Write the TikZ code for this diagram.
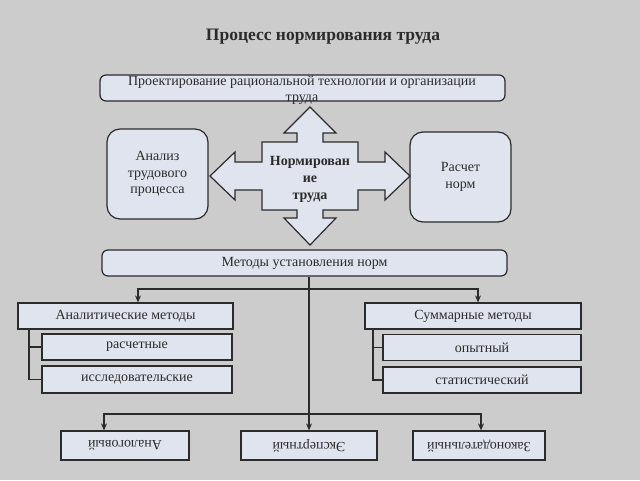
\documentclass[tikz,border=0pt]{standalone}
\usepackage{fontspec}
\setmainfont{Liberation Serif}
\usetikzlibrary{arrows.meta, positioning}

\definecolor{bgGray}{HTML}{CCCCCC}
\definecolor{boxFill}{HTML}{DFE4EE}
\definecolor{lineDark}{HTML}{2B2B2B}
\newcommand{\fsz}[2]{\fontsize{#1}{#2}\selectfont}

\begin{document}
\begin{tikzpicture}[x=1pt, y=-1pt,
        rbox/.style={rectangle, rounded corners=6pt, draw=lineDark, line width=1.2pt, fill=boxFill,
            text=lineDark, font=\fsz{14}{16.5}},
        bigbox/.style={rbox, rounded corners=13pt, minimum width=101pt, minimum height=90pt, align=center},
        mbox/.style={rectangle, draw=lineDark, line width=1.2pt, fill=boxFill, minimum height=26pt,
            text=lineDark, font=\fsz{14}{16.5}},
        lbox/.style={mbox, minimum height=29pt, rotate=180},
        arrow/.style={-{Stealth[length=7pt, width=6pt]}, line width=1.4pt, draw=lineDark},
        link/.style={line width=1.6pt, draw=lineDark}
    ]
        \fill[bgGray] (0,0) rectangle (640,480);
        \useasboundingbox (0,0) rectangle (640,480);

        \node[font=\bfseries\fsz{17.5}{20}, text=lineDark] (title) at (323,37) {Процесс нормирования труда};

        % upper part
        \node[rbox, minimum width=405pt, minimum height=26pt] (proj) at (302.5,88) {};
        \node[align=center, inner sep=0pt, text=lineDark, font=\fsz{14}{16}] (projtxt) at (302,90)
            {Проектирование рациональной технологии и организации\\труда};
        \node[bigbox] (anal) at (157.5,174) {Анализ\\трудового\\процесса};
        \node[bigbox] (calc) at (460.5,177) {Расчет\\норм};

        \draw[line width=1.2pt, draw=lineDark, fill=boxFill, shift={(310,176)}]
            (0,-69) -- (26,-43) -- (13,-43) -- (13,-34) -- (48,-34) -- (48,-14) -- (75,-14) -- (75,-24)
            -- (100,0) -- (75,24) -- (75,14) -- (48,14) -- (48,34) -- (13,34) -- (13,42) -- (26,42)
            -- (0,69) -- (-26,42) -- (-13,42) -- (-13,34) -- (-48,34) -- (-48,14) -- (-75,14) -- (-75,24)
            -- (-100,0) -- (-75,-24) -- (-75,-14) -- (-48,-14) -- (-48,-34) -- (-13,-34) -- (-13,-43)
            -- (-26,-43) -- cycle;
        \node[align=center, font=\bfseries\fsz{14}{17}, text=lineDark] (norm) at (310,179) {Нормирован\\ие\\труда};

        \node[rbox, minimum width=405pt, minimum height=26pt] (meth) at (304.5,263) {Методы установления норм};

        % methods
        \node[mbox, minimum width=215pt] (analm) at (125.5,316) {Аналитические методы};
        \node[mbox, minimum width=190pt] (calcm) at (137,347) {расчетные};
        \node[mbox, minimum width=190pt, minimum height=27pt] (resm) at (137,379.5) {исследовательские};
        \node[mbox, minimum width=216pt] (summ) at (473,316) {Суммарные методы};
        \node[mbox, minimum width=198pt] (expm) at (482,347.5) {опытный};
        \node[mbox, minimum width=198pt] (statm) at (482,380) {статистический};

        % upside-down boxes: their south anchor is on top
        \node[lbox, minimum width=128pt] (analog) at (125,445.5) {Аналоговый};
        \node[lbox, minimum width=136pt] (expert) at (309,445.5) {Экспертный};
        \node[lbox, minimum width=132pt] (law) at (479,445.5) {Законодательный};

        \coordinate (split) at (309,289);
        \coordinate (low) at (309,414);
        \draw[link] (meth.south -| split) -- (split);
        \draw[arrow] (split) -| ([xshift=12.5pt]analm.north);
        \draw[arrow] (split) -| ([xshift=5pt]summ.north);
        \draw[arrow] (split) -- (expert.south -| split);
        \draw[arrow] (low) -| ([xshift=-21pt]analog.south);
        \draw[arrow] (low) -| ([xshift=2pt]law.south);

        \draw[link] ([xshift=11.5pt]analm.south west) |- (calcm.west);
        \draw[link] ([xshift=11.5pt]analm.south west) |- (resm.west);
        \draw[link] ([xshift=8.5pt]summ.south west) |- (expm.west);
        \draw[link] ([xshift=8.5pt]summ.south west) |- (statm.west);
    \end{tikzpicture}
\end{document}
